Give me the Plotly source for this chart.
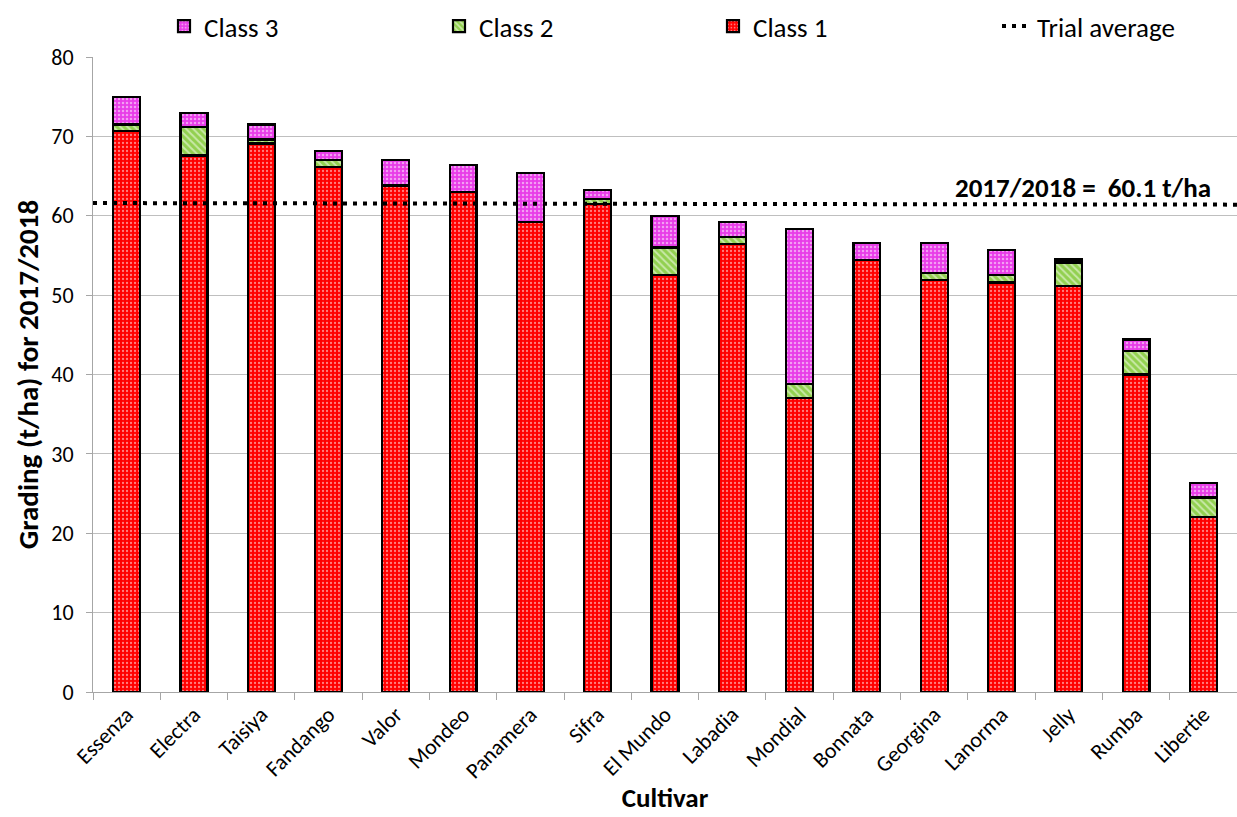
import plotly.graph_objects as go

cultivars = ["Essenza", "Electra", "Taisiya", "Fandango", "Valor", "Mondeo", "Panamera",
             "Sifra", "El Mundo", "Labadia", "Mondial", "Bonnata", "Georgina", "Lanorma",
             "Jelly", "Rumba", "Libertie"]
class1 = [70.7, 67.6, 69.1, 66.1, 63.8, 63.0, 59.2, 61.5, 52.5, 56.4, 37.0, 54.4, 51.9, 51.6, 51.1, 40.0, 22.0]
class2 = [0.8, 3.6, 0.5, 0.9, 0.0, 0.0, 0.0, 0.6, 3.5, 0.9, 1.8, 0.0, 0.9, 0.9, 3.0, 3.0, 2.5]
class3 = [3.5, 1.7, 1.9, 1.2, 3.2, 3.4, 6.2, 1.1, 4.0, 1.9, 19.5, 2.2, 3.8, 3.2, 0.4, 1.4, 1.8]
trial_x = [0, 1]
trial_y = [61.6, 61.4]
trial_label = "2017/2018 =  60.1 t/ha"

FONT = "Carlito, Calibri, Lato, 'Open Sans', sans-serif"

fig = go.Figure()

def bar(name, vals, color, shape, size, solidity, leg):
    fig.add_trace(go.Bar(
        x=cultivars, y=vals, name=name, width=0.4, legend=leg, showlegend=True,
        marker=dict(color=color, line=dict(color="black", width=2.2),
                    pattern=dict(shape=shape, fgcolor="white", size=size,
                                 solidity=solidity, fillmode="overlay")),
    ))

bar("Class 1", class1, "#FF0000", ".", 4, 0.25, "legend3")
bar("Class 2", class2, "#92D050", "\\", 5, 0.4, "legend2")
bar("Class 3", class3, "#E83CE8", ".", 4, 0.3, "legend")

fig.add_trace(go.Scatter(
    x=trial_x, y=trial_y, xaxis="x2", mode="lines", name="Trial average", legend="legend4",
    showlegend=True, line=dict(color="black", width=4, dash="4px,6px"),
))

fig.add_annotation(text="<b>" + trial_label + "</b>", xref="paper", yref="y",
                   x=0.979, y=63.6, xanchor="right", yanchor="middle",
                   showarrow=False, font=dict(size=27, color="black", family=FONT))

def leg(xpx):
    return dict(orientation="h", x=(xpx - 93) / 1144, xanchor="left", y=1.048, yanchor="middle",
                font=dict(size=27), itemwidth=30, bgcolor="rgba(0,0,0,0)", visible=True)

fig.update_layout(
    width=1237, height=817,
    barmode="stack",
    showlegend=True,
    plot_bgcolor="white", paper_bgcolor="white",
    margin=dict(l=93, r=0, t=57, b=125, autoexpand=False),
    font=dict(family=FONT, size=22, color="black"),
    legend=leg(164), legend2=leg(439), legend3=leg(713), legend4=leg(997),
    xaxis=dict(type="category", tickangle=-45, showline=True, linecolor="#A6A6A6", linewidth=1,
               ticks="outside", tickson="boundaries", ticklen=7, tickcolor="#A6A6A6",
               title=dict(text="<b>Cultivar</b>", font=dict(size=27), standoff=4),
               tickfont=dict(size=22)),
    xaxis2=dict(overlaying="x", range=[0, 1], visible=False),
    yaxis=dict(range=[0, 80], dtick=10, showgrid=True, gridcolor="#BFBFBF", gridwidth=1,
               showline=True, linecolor="#A6A6A6", ticks="outside", ticklen=6, tickcolor="#A6A6A6",
               ticklabelstandoff=8,
               title=dict(text="<b>Grading (t/ha) for 2017/2018</b>", font=dict(size=29), standoff=4),
               tickfont=dict(size=22), zeroline=False),
)

fig.write_html("out.html")
